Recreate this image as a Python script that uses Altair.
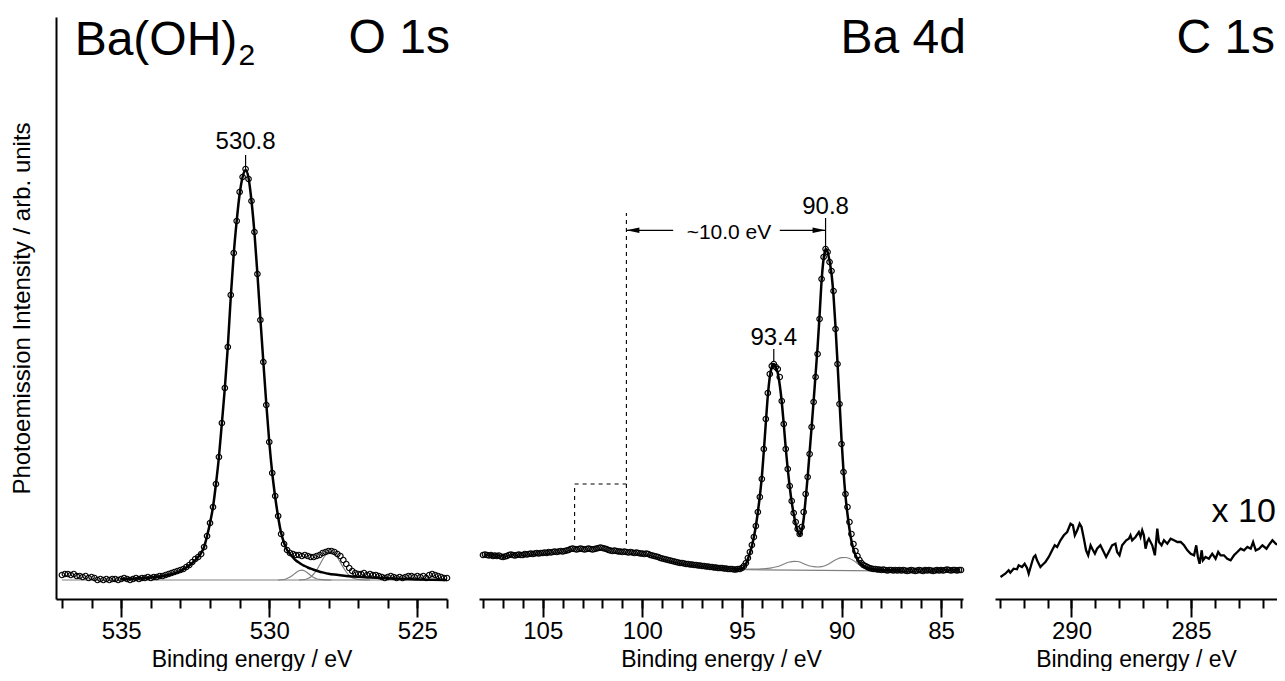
import altair as alt
import numpy as np
import pandas as pd

FONT = "Liberation Sans"
YMAX = 582

# ---------------- O 1s ----------------
O1S_E_START, O1S_E_STEP = 537.0, 0.1
O1S_DATA = [
    24, 25, 25, 24, 25, 23, 23, 22, 23, 21,
    22, 21, 19, 20, 19, 20, 19, 20, 20, 19,
    20, 21, 20, 19, 20, 21, 20, 21, 21, 22,
    21, 22, 22, 23, 23, 24, 25, 26, 27, 28,
    29, 30, 32, 34, 37, 40, 42, 45, 52, 63,
    76, 92, 115, 142, 176, 211, 252, 304, 346, 378,
    407, 422, 430, 420, 398, 367, 325, 279, 237, 194,
    157, 126, 103, 83, 65, 55, 49, 46, 45, 44,
    44, 43, 44, 43, 42, 42, 43, 44, 46, 47,
    48, 48, 47, 45, 43, 39, 35, 31, 28, 26,
    25, 25, 26, 24, 25, 24, 24, 23, 22, 21,
    22, 23, 22, 21, 22, 21, 22, 23, 23, 22,
    23, 22, 23, 21, 24, 25, 24, 23, 22, 21,
    21,
]
O1S_FIT_E = [535.0, 534.5, 534.0, 533.5, 533.0, 532.8, 532.6, 532.4, 532.3, 532.2,
             532.1, 532.0, 531.9, 531.8, 531.7, 531.6, 531.5, 531.4, 531.3, 531.2,
             531.1, 531.0, 530.9, 530.8, 530.7, 530.6, 530.5, 530.4, 530.3, 530.2,
             530.1, 530.0, 529.9, 529.8, 529.7, 529.6, 529.5, 529.4, 529.3, 529.2,
             529.1, 529.0, 528.9, 528.8, 528.7, 528.6, 528.5, 528.4, 528.3, 528.2,
             528.0, 527.8, 527.6, 527.4, 527.2, 527.0, 526.6, 526.2, 525.8, 525.4,
             525.0, 524.5, 524.0]
O1S_FIT_I = [20, 20.5, 21.5, 23.5, 28, 31.5, 36, 42, 46, 52,
             63, 76, 92, 115, 142, 176, 211, 252, 302, 345,
             378, 405, 422, 429, 421, 398, 366, 325, 280, 237,
             195, 157, 126, 102, 82, 66, 56, 49, 45, 41.5,
             38.5, 36.5, 34.5, 33, 31.5, 30.3, 29.2, 28.2, 27.3, 26.6,
             25.3, 24.4, 23.7, 23.1, 22.6, 22.2, 21.5, 20.9, 20.4, 20,
             19.6, 19.3, 19.1]
O1S_C1_E = [529.7, 529.5, 529.4, 529.3, 529.2, 529.1, 529.0, 528.9, 528.8, 528.7,
            528.6, 528.5, 528.4, 528.3, 528.1, 527.9]
O1S_C1_I = [19, 19.5, 20.5, 22, 24, 26.3, 28.2, 28.8, 28, 26,
            23.5, 21.5, 20.3, 19.6, 19.1, 19]
O1S_C2_E = [529.0, 528.8, 528.7, 528.6, 528.5, 528.4, 528.3, 528.2, 528.1, 528.0,
            527.9, 527.8, 527.7, 527.6, 527.5, 527.4, 527.3, 527.2, 527.1, 527.0,
            526.8, 526.6]
O1S_C2_I = [19, 19.5, 20.5, 22, 25, 29, 34, 39.5, 44, 47,
            47.5, 45.5, 41.5, 36.5, 31.5, 27, 23.5, 21.3, 20.2, 19.6,
            19.1, 19]
O1S_BG_E = [537.0, 524.0]
O1S_BG_I = [19, 19]

# ---------------- Ba 4d ----------------
BA_E_START, BA_E_STEP = 108.0, 0.1
BA_DATA = [
    44, 44.5, 44, 43.5, 44, 43, 43.5, 43, 43.5, 42.5,
    42, 42.5, 43, 44, 44.5, 44, 43.5, 44, 44.5, 44,
    44, 45, 44.5, 45, 45.5, 45, 45.5, 46, 45.5, 46,
    46, 46.5, 46, 47, 46.5, 47, 47.5, 47, 47.5, 48,
    47.5, 48, 48.5, 49, 50, 50.5, 50, 49.5, 50, 50.5,
    50, 49.5, 50, 50.5, 50, 49.5, 50, 50.5, 51, 51.5,
    51, 50.5, 50, 49, 48.5, 48, 48.5, 48, 47.5, 47.5,
    47, 47.5, 47, 46.5, 47, 46.5, 46, 46.5, 46, 45.5,
    45.5, 45, 45.5, 45, 44, 43.5, 43, 42.5, 42, 41,
    40.5, 40, 39.5, 39, 38.5, 38, 37.5, 37, 36.5, 36,
    36, 35.5, 35, 35, 34.5, 34.5, 34, 34, 33.5, 33.5,
    33, 33, 32.5, 32.5, 32, 32, 31.5, 31.5, 31, 31,
    31, 30.5, 30.5, 30, 30, 30, 29.5, 29.5, 30, 30,
    31, 33, 36, 41, 47, 54, 62, 73, 87, 102,
    120, 150, 180, 206, 225, 233, 235, 232, 230, 222,
    198, 175, 150, 130, 113, 98, 86, 77, 70, 65,
    72, 87, 105, 122, 145, 172, 197, 222, 245, 280,
    320, 342, 350, 347, 337, 328, 308, 270, 235, 195,
    155, 127, 105, 92, 77, 65, 55, 48, 43, 39,
    36, 34, 33, 32, 31, 30.5, 30, 30, 29.5, 29.5,
    29, 29.5, 29, 28.5, 29, 29, 28.5, 29, 28.5, 29,
    28.5, 29, 28.5, 28, 28.5, 29, 28.5, 28, 28.5, 29,
    28.5, 28, 29, 28.5, 29, 28.5, 28, 28.5, 29, 28.5,
    29, 28.5, 29, 29.5, 29, 28.5, 29, 29, 28.5, 29,
    29,
]
BA_FIT_E = [95.4, 95.2, 95.0, 94.9, 94.8, 94.7, 94.6, 94.5, 94.4, 94.3,
            94.2, 94.1, 94.0, 93.9, 93.8, 93.7, 93.6, 93.5, 93.4, 93.3,
            93.2, 93.1, 93.0, 92.9, 92.8, 92.7, 92.6, 92.5, 92.4, 92.3,
            92.2, 92.1, 92.0, 91.9, 91.8, 91.7, 91.6, 91.5, 91.4, 91.3,
            91.2, 91.1, 91.0, 90.9, 90.8, 90.7, 90.6, 90.5, 90.4, 90.3,
            90.2, 90.1, 90.0, 89.9, 89.8, 89.7, 89.6, 89.5, 89.4, 89.3,
            89.2, 89.1, 89.0, 88.8, 88.6, 88.4, 88.2, 88.0, 87.5, 87.0]
BA_FIT_I = [29.5, 29.7, 30.5, 32, 35, 40, 46, 53, 62, 73,
            87, 103, 122, 148, 176, 203, 222, 232, 235, 232,
            226, 214, 197, 175, 151, 130, 112, 97, 85, 75,
            68, 64, 68, 80, 100, 122, 147, 172, 198, 225,
            252, 284, 318, 340, 350, 347, 338, 325, 303, 272,
            236, 198, 160, 128, 103, 85, 70, 58, 50, 44,
            40, 37, 35, 32, 30.5, 29.8, 29.4, 29.1, 28.8, 28.6]
BA_SAT_E = [95.4, 95.0, 94.5, 94.0, 93.5, 93.2, 93.0, 92.8, 92.6, 92.4,
            92.2, 92.0, 91.8, 91.6, 91.4, 91.2, 91.0, 90.8, 90.6, 90.4,
            90.2, 90.0, 89.8, 89.6, 89.4, 89.2, 89.0, 88.8, 88.6, 88.4,
            88.2, 88.0, 87.5, 87.0]
BA_SAT_I = [29.5, 29.6, 29.8, 30.2, 31.2, 32.5, 34, 35.8, 37, 37.7,
            37.5, 36.3, 34.5, 33, 32.3, 32, 32.3, 33.5, 35.5, 38,
            40, 41.3, 41.5, 40.5, 38.5, 35.5, 33, 31, 29.8, 29,
            28.6, 28.4, 28.2, 28.0]
BA_BG_E = [95.5, 86.5]
BA_BG_I = [29.5, 27.8]

# ---------------- C 1s (x 10) ----------------
C1S_E = [292.97, 292.77, 292.63, 292.56, 292.42, 292.28, 292.21, 292.07, 291.96, 291.86,
         291.79, 291.65, 291.58, 291.51, 291.44, 291.30, 291.23, 291.09, 290.95, 290.81,
         290.70, 290.60, 290.46, 290.32, 290.18, 290.04, 289.94, 289.86, 289.76, 289.66,
         289.58, 289.48, 289.39, 289.30, 289.20, 289.13, 289.02, 288.93, 288.79, 288.65,
         288.55, 288.44, 288.30, 288.16, 288.09, 287.99, 287.88, 287.71, 287.60, 287.53,
         287.46, 287.32, 287.18, 287.11, 287.04, 286.97, 286.90, 286.83, 286.76, 286.62,
         286.51, 286.41, 286.34, 286.23, 286.13, 285.99, 285.85, 285.71, 285.57, 285.43,
         285.29, 285.15, 285.01, 284.87, 284.78, 284.71, 284.64, 284.55, 284.50, 284.39,
         284.25, 284.11, 283.97, 283.86, 283.76, 283.62, 283.48, 283.34, 283.20, 283.06,
         282.92, 282.78, 282.64, 282.50, 282.40, 282.29, 282.15, 282.01, 281.84, 281.70,
         281.59, 281.45, 281.31, 281.17, 281.03]
C1S_I = [22, 25.3, 28.7, 26.3, 30.3, 29.7, 33.7, 32, 35.3, 31,
         25.3, 37, 42, 43.7, 38.7, 32, 33.7, 37, 42, 48.7,
         53.7, 52, 58.7, 63.7, 67, 75.3, 73.7, 63.7, 68.7, 75.3,
         72, 60.3, 48.7, 43.7, 53.7, 50.3, 45.3, 50.3, 53.7, 47,
         42, 47, 53.7, 55.3, 47, 43.7, 53.7, 58.7, 60.3, 63.7,
         58.7, 62, 67, 62, 68.7, 63.7, 50.3, 57, 60.3, 53.7,
         43.7, 70.3, 57, 53.7, 58.7, 55.3, 60.3, 58.7, 57, 57,
         53.7, 48.7, 45.3, 43.7, 53.7, 42, 35.3, 48.7, 38.7, 42,
         40.3, 45.3, 40.3, 47, 43.7, 43.7, 40.3, 38.7, 43.7, 47,
         50.3, 48.7, 52, 50.3, 57, 48.7, 50.3, 53.7, 50.3, 55.3,
         58.7, 55.3, 53.7, 55.3, 57]

# axis ticks
O1S_MAJOR = [535, 530, 525]
O1S_MINOR = list(range(524, 538))
BA_MAJOR = [105, 100, 95, 90, 85]
BA_MINOR = list(range(84, 109))
C1S_MAJOR = [290, 285]
C1S_MINOR = list(range(282, 294))

# ---------------- helpers ----------------
def df(e, i):
    return pd.DataFrame({"E": e, "I": i})


def xs(dom, axis=None, field="E"):
    return alt.X(f"{field}:Q", scale=alt.Scale(domain=dom, reverse=True, nice=False, zero=False), axis=axis)


def ys(axis=None, field="I"):
    return alt.Y(f"{field}:Q", scale=alt.Scale(domain=[0, YMAX], nice=False, zero=False), axis=axis)


def major_axis(values):
    return alt.Axis(values=values, tickSize=18, tickWidth=2, domainWidth=2, domainColor="black",
                    tickColor="black", labelFontSize=24, labelPadding=2, labelFont=FONT,
                    labelColor="black", format="d", title="Binding energy / eV", titleFont=FONT,
                    titleFontSize=23, titleFontWeight="normal", titleColor="black",
                    titleBaseline="alphabetic", titleY=67, grid=False, orient="bottom", labelFlush=False)


def minor_axis(values):
    return alt.Axis(values=values, tickSize=9, tickWidth=2, tickColor="black", labels=False,
                    domain=False, title=None, grid=False, orient="bottom")


def line(d, dom, width, color, axis=None, interp="linear", yaxis=None):
    return alt.Chart(d).mark_line(color=color, strokeWidth=width, interpolate=interp, clip=True).encode(
        x=xs(dom, axis), y=ys(yaxis))


def points(d, dom, xaxis=None, yaxis=None):
    return alt.Chart(d).mark_point(shape="circle", filled=False, size=30, strokeWidth=1.2,
                                   color="black", opacity=1).encode(x=xs(dom, xaxis), y=ys(yaxis))


def rules(d, dom, dash=None, width=1.2):
    kw = dict(color="black", strokeWidth=width)
    if dash:
        kw["strokeDash"] = dash
    return alt.Chart(d).mark_rule(**kw).encode(
        x=xs(dom), x2=alt.X2("E2:Q"), y=ys(), y2=alt.Y2("I2:Q"))


def texts(d, dom, size, align="center"):
    return alt.Chart(d).mark_text(font=FONT, fontSize=size, align=align, baseline="alphabetic",
                                  color="black").encode(x=xs(dom), y=ys(), text="label:N")


# ---------------- panel 1: O 1s ----------------
O_DOM = [524.0, 537.2]
o_df = df(np.round(O1S_E_START - O1S_E_STEP * np.arange(len(O1S_DATA)), 2), O1S_DATA)
y_axis = alt.Axis(title="Photoemission Intensity / arb. units", ticks=False, labels=False,
                  domain=True, domainWidth=2, domainColor="black", grid=False, titleFont=FONT,
                  titleFontSize=24, titleFontWeight="normal", titleColor="black",
                  titleX=-22, titleBaseline="bottom", orient="left")

o_tick = pd.DataFrame({"E": [530.8], "E2": [530.8], "I": [430], "I2": [444]})
o_big = pd.DataFrame({"E": [536.57], "I": [544], "label": ["Ba(OH)"]})
o_sub = pd.DataFrame({"E": [531.04], "I": [534], "label": ["2"]})
o_title = pd.DataFrame({"E": [523.9], "I": [546], "label": ["O 1s"]})
o_peak = pd.DataFrame({"E": [530.8], "I": [450], "label": ["530.8"]})

p1 = alt.layer(
    line(df(O1S_BG_E, O1S_BG_I), O_DOM, 1.2, "#808080", axis=minor_axis(O1S_MINOR), yaxis=y_axis),
    line(df(O1S_C1_E, O1S_C1_I), O_DOM, 1.2, "#808080", interp="monotone"),
    line(df(O1S_C2_E, O1S_C2_I), O_DOM, 1.2, "#808080", interp="monotone"),
    points(o_df, O_DOM, xaxis=major_axis(O1S_MAJOR)),
    line(df(O1S_FIT_E, O1S_FIT_I), O_DOM, 2.5, "black", interp="monotone"),
    rules(o_tick, O_DOM),
    texts(o_big, O_DOM, 48, "left"),
    texts(o_sub, O_DOM, 30, "left"),
    texts(o_title, O_DOM, 48, "right"),
    texts(o_peak, O_DOM, 24),
).resolve_axis(x="independent", y="independent").properties(width=391, height=YMAX)

# ---------------- panel 2: Ba 4d ----------------
B_DOM = [83.9, 108.2]
b_df = df(np.round(BA_E_START - BA_E_STEP * np.arange(len(BA_DATA)), 2), BA_DATA)
b_dash = pd.DataFrame({"E": [100.8, 103.4, 103.4], "E2": [100.8, 103.4, 100.8],
                       "I": [55, 59, 115], "I2": [386, 115, 115]})
b_solid = pd.DataFrame({"E": [93.4, 90.8, 100.8, 93.1], "E2": [93.4, 90.8, 98.45, 90.8],
                        "I": [237, 350, 368.7, 368.7], "I2": [250, 381, 368.7, 368.7]})
b_arrow_l = pd.DataFrame({"E": [100.8], "I": [368.7]})
b_arrow_r = pd.DataFrame({"E": [90.8], "I": [368.7]})
b_peak = pd.DataFrame({"E": [93.4, 90.8], "I": [254, 385], "label": ["93.4", "90.8"]})
b_delta = pd.DataFrame({"E": [95.65], "I": [360], "label": ["~10.0 eV"]})
b_title = pd.DataFrame({"E": [83.75], "I": [546], "label": ["Ba 4d"]})


def arrow(d, dom, path):
    return alt.Chart(d).mark_point(shape=path, filled=True, size=169, color="black",
                                   strokeWidth=0, opacity=1).encode(x=xs(dom), y=ys())


p2 = alt.layer(
    line(df(BA_BG_E, BA_BG_I), B_DOM, 1.2, "#808080", axis=minor_axis(BA_MINOR)),
    line(df(BA_SAT_E, BA_SAT_I), B_DOM, 1.2, "#808080", interp="monotone"),
    points(b_df, B_DOM, xaxis=major_axis(BA_MAJOR)),
    line(df(BA_FIT_E, BA_FIT_I), B_DOM, 2.5, "black", interp="monotone"),
    rules(b_dash, B_DOM, dash=[4, 4], width=1.1),
    rules(b_solid, B_DOM),
    arrow(b_arrow_l, B_DOM, "M0,0L2,-0.42L2,0.42Z"),
    arrow(b_arrow_r, B_DOM, "M0,0L-2,-0.42L-2,0.42Z"),
    texts(b_peak, B_DOM, 24),
    texts(b_delta, B_DOM, 21),
    texts(b_title, B_DOM, 48, "right"),
).resolve_axis(x="independent", y="independent").properties(width=484, height=YMAX)

# ---------------- panel 3: C 1s ----------------
C_DOM = [281.4, 293.2]
c_title = pd.DataFrame({"E": [281.48], "I": [546], "label": ["C 1s"]})
c_mult = pd.DataFrame({"E": [281.45], "I": [77], "label": ["x 10"]})

p3 = alt.layer(
    line(df(C1S_E, C1S_I), C_DOM, 2.3, "black", axis=major_axis(C1S_MAJOR)),
    alt.Chart(df(C1S_E[:2], C1S_I[:2])).mark_point(opacity=0).encode(
        x=xs(C_DOM, minor_axis(C1S_MINOR)), y=ys()),
    texts(c_title, C_DOM, 48, "right"),
    texts(c_mult, C_DOM, 34, "right"),
).resolve_axis(x="independent", y="independent").properties(width=282, height=YMAX)

chart = alt.hconcat(p1, p2, p3, spacing=32, bounds="flush").properties(
    padding={"left": 2, "top": 7, "right": 0, "bottom": 0}
).configure_view(stroke=None).configure_axis(grid=False)

chart.save("out.html", embed_options={"renderer": "svg", "actions": False})
